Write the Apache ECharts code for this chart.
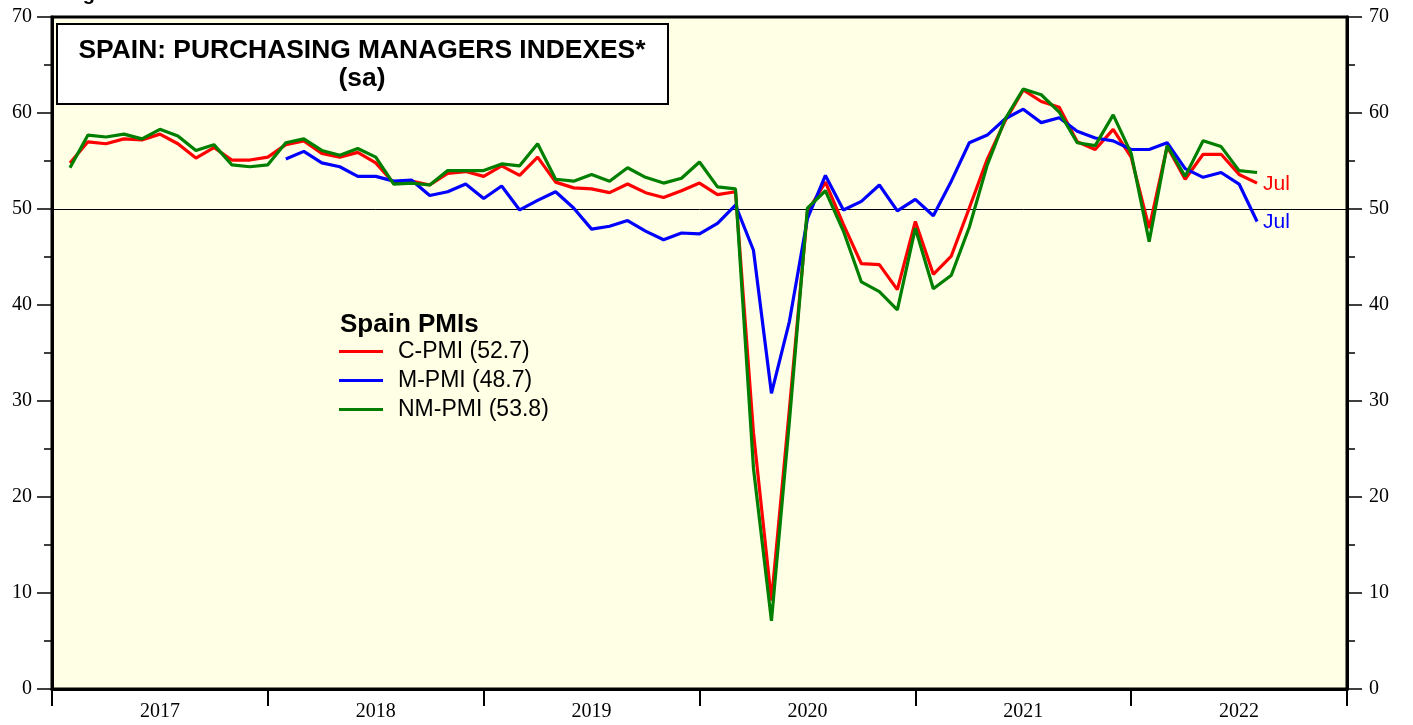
<!DOCTYPE html>
<html>
<head>
<meta charset="utf-8">
<style>html,body{margin:0;padding:0;background:#fff;}#c{width:1413px;height:725px;}</style>
<script src="https://cdn.jsdelivr.net/npm/echarts@6/dist/echarts.min.js"></script>
</head>
<body>
<div id="c"></div>
<script>
// Tick labels (years) and months
var years = ['2017', '2018', '2019', '2020', '2021', '2022'];
var monthsPerYear = 12;

// C-PMI, Jan 2017 - Jul 2022
var cPmi = [
  54.8, 57.0, 56.8, 57.3, 57.2, 57.8, 56.8, 55.3, 56.4, 55.1, 55.1, 55.4,
  56.7, 57.1, 55.8, 55.4, 55.9, 54.8, 52.7, 52.9, 52.5, 53.7, 53.9, 53.4,
  54.5, 53.5, 55.4, 52.8, 52.2, 52.1, 51.7, 52.6, 51.7, 51.2, 51.9, 52.7,
  51.5, 51.8, 26.7, 9.2, 29.2, 49.7, 52.8, 48.4, 44.3, 44.2, 41.6, 48.7,
  43.2, 45.1, 50.1, 55.2, 59.2, 62.4, 61.2, 60.6, 57.0, 56.2, 58.3, 55.4,
  48.0, 56.5, 53.1, 55.7, 55.7, 53.6, 52.7
];
// M-PMI, Jan 2018 - Jul 2022 (not shown for 2017)
var mPmi = [
  55.2, 56.0, 54.8, 54.4, 53.4, 53.4, 52.9, 53.0, 51.4, 51.8, 52.6, 51.1,
  52.4, 49.9, 50.9, 51.8, 50.1, 47.9, 48.2, 48.8, 47.7, 46.8, 47.5, 47.4,
  48.5, 50.4, 45.7, 30.8, 38.3, 49.0, 53.5, 49.9, 50.8, 52.5, 49.8, 51.0,
  49.3, 52.9, 56.9, 57.7, 59.4, 60.4, 59.0, 59.5, 58.1, 57.4, 57.1, 56.2,
  56.2, 56.9, 54.2, 53.3, 53.8, 52.6, 48.7
];
// NM-PMI, Jan 2017 - Jul 2022
var nmPmi = [
  54.3, 57.7, 57.5, 57.8, 57.3, 58.3, 57.6, 56.1, 56.7, 54.6, 54.4, 54.6,
  56.9, 57.3, 56.1, 55.6, 56.3, 55.4, 52.6, 52.7, 52.5, 54.0, 54.0, 54.0,
  54.7, 54.5, 56.8, 53.1, 52.9, 53.6, 52.9, 54.3, 53.3, 52.7, 53.2, 54.9,
  52.3, 52.1, 23.0, 7.1, 27.9, 50.1, 51.9, 47.7, 42.4, 41.4, 39.5, 48.0,
  41.7, 43.1, 48.1, 54.6, 59.4, 62.5, 61.9, 60.1, 56.9, 56.6, 59.8, 55.8,
  46.6, 56.6, 53.4, 57.1, 56.5, 54.0, 53.8
];
var mStartOffset = 12; // M-PMI begins Jan 2018

// categories: month-end points, index 0 = start of 2017
var cats = [];
for (var j = 0; j <= years.length * monthsPerYear; j++) {
  var yi = Math.min(Math.floor(j / monthsPerYear), years.length - 1);
  cats.push(years[yi]);
}
function align(arr, offset) {
  var out = [null];
  for (var k = 0; k < offset; k++) out.push(null);
  return out.concat(arr);
}

var serif = 'Liberation Serif, Times New Roman, serif';
var sans = 'Liberation Sans, Arial, sans-serif';

var chart = echarts.init(document.getElementById('c'), null, {renderer: 'canvas'});
var yAxisBase = function (pos, margin) {
  return {
    type: 'value', position: pos, min: 0, max: 70, interval: 10,
    axisLine: {show: true, onZero: false, lineStyle: {color: '#000', width: 3}},
    axisTick: {show: true, inside: false, length: 15, lineStyle: {color: '#000', width: 1.5}},
    minorTick: {show: true, splitNumber: 2, length: 8, lineStyle: {color: '#000', width: 1.5}},
    axisLabel: {show: true, margin: margin, color: '#000', fontFamily: serif, fontSize: 20},
    splitLine: {show: false}, minorSplitLine: {show: false}
  };
};
chart.setOption({
  animation: false,
  backgroundColor: '#fff',
  grid: {left: 52, right: 66, top: 17, bottom: 36, show: true, backgroundColor: '#FFFFE5', borderColor: '#000', borderWidth: 3},
  xAxis: {
    type: 'category', data: cats, boundaryGap: false,
    axisLine: {show: true, lineStyle: {color: '#000', width: 3}},
    axisTick: {show: true, length: 17, interval: function (i) { return i % monthsPerYear === 0; }, lineStyle: {color: '#000', width: 2}},
    axisLabel: {show: true, interval: function (i) { return i % monthsPerYear === monthsPerYear / 2; }, margin: 13, color: '#000', fontFamily: serif, fontSize: 20},
    splitLine: {show: false}
  },
  yAxis: [yAxisBase('left', 20), yAxisBase('right', 22)],
  legend: {
    orient: 'vertical', left: 339, top: 340, padding: 0,
    icon: 'rect', itemWidth: 44, itemHeight: 3, itemGap: 6,
    textStyle: {fontFamily: sans, fontSize: 23, color: '#000', lineHeight: 23, padding: [0, 0, 0, 10]},
    data: ['C-PMI (52.7)', 'M-PMI (48.7)', 'NM-PMI (53.8)']
  },
  graphic: [
    {type: 'text', left: 65, top: -16, style: {text: 'Figure 3:', font: 'bold 20px ' + sans, fill: '#000'}},
    {type: 'rect', shape: {x: 57, y: 24, width: 611, height: 80}, style: {fill: '#fff', stroke: '#000', lineWidth: 2}, z: 10},
    {type: 'text', x: 362, y: 51, style: {text: 'SPAIN: PURCHASING MANAGERS INDEXES*', font: 'bold 26.4px ' + sans, fill: '#000', align: 'center', verticalAlign: 'middle'}, z: 11},
    {type: 'text', x: 362, y: 79, style: {text: '(sa)', font: 'bold 26.4px ' + sans, fill: '#000', align: 'center', verticalAlign: 'middle'}, z: 11},
    {type: 'text', x: 340, y: 325, style: {text: 'Spain PMIs', font: 'bold 26px ' + sans, fill: '#000', align: 'left', verticalAlign: 'middle'}, z: 11}
  ],
  series: [
    {
      name: 'C-PMI (52.7)', type: 'line', data: align(cPmi, 0), symbol: 'none', showSymbol: false,
      lineStyle: {color: '#FF0000', width: 3.2}, itemStyle: {color: '#FF0000'},
      endLabel: {show: true, formatter: 'Jul', color: '#FF0000', fontFamily: sans, fontSize: 21, distance: 6, offset: [0, 1]},
      markLine: {silent: true, symbol: ['none', 'none'], label: {show: false}, lineStyle: {color: '#000', width: 1, type: 'solid'}, data: [{yAxis: 50}], z: 1}
    },
    {
      name: 'M-PMI (48.7)', type: 'line', data: align(mPmi, mStartOffset), symbol: 'none', showSymbol: false,
      lineStyle: {color: '#0000FF', width: 3.2}, itemStyle: {color: '#0000FF'},
      endLabel: {show: true, formatter: 'Jul', color: '#0000FF', fontFamily: sans, fontSize: 21, distance: 6, offset: [0, 1]}
    },
    {
      name: 'NM-PMI (53.8)', type: 'line', data: align(nmPmi, 0), symbol: 'none', showSymbol: false,
      lineStyle: {color: '#007F00', width: 3.2}, itemStyle: {color: '#007F00'}
    }
  ]
});
</script>
</body>
</html>
